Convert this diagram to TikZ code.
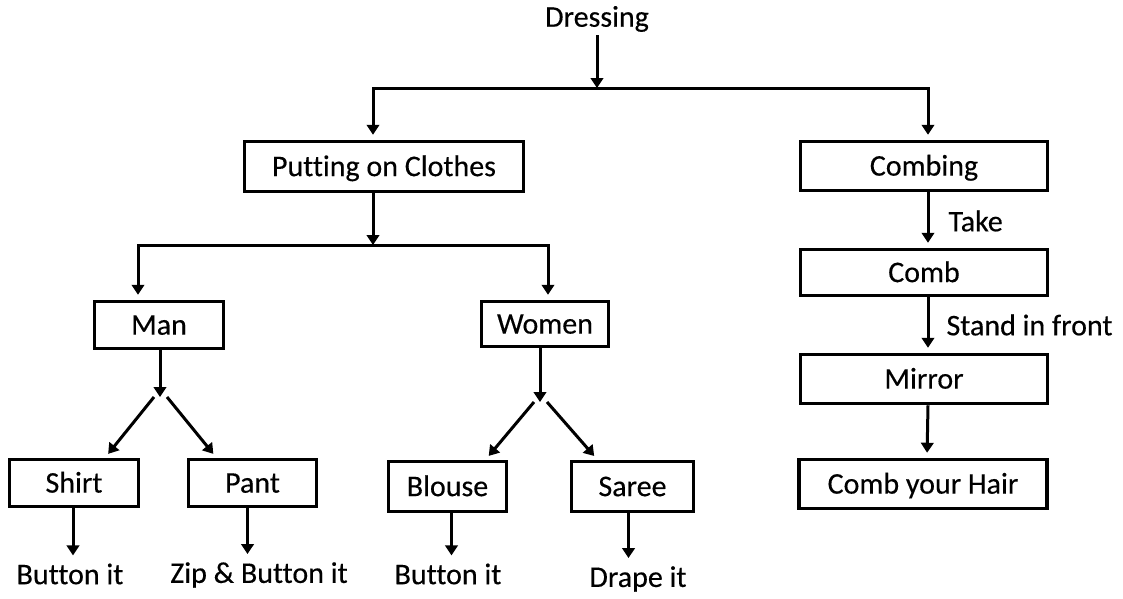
\documentclass[tikz,border=0pt]{standalone}
\usepackage{fontspec}
\setmainfont{Carlito}[Ligatures=NoCommon,FakeBold=0.3]
\usetikzlibrary{arrows.meta}
\begin{document}
\begin{tikzpicture}[x=1pt,y=-1pt,
  txt/.style={font=\fontsize{30}{36}\selectfont},
  box/.style={txt,draw,line width=3.5pt,inner sep=0pt,text height=19.2pt,text depth=0pt},
  lbl/.style={txt,inner sep=3pt},
  arrj/.style={line width=3pt,-{Triangle[length=10pt,width=12.5pt]}},
  arr/.style={arrj,shorten >=5pt}]
\fill[white] (0,0) rectangle (1123,598);
\useasboundingbox (0,0) rectangle (1123,598);

% top level
\node[lbl] (dressing) at (597,19) {Dressing};
\coordinate (j0) at (597,88);
\node[box,minimum width=279pt,minimum height=50pt] (poc) at (384,166.5) {Putting on Clothes};
\node[box,minimum width=247pt,minimum height=49pt] (combing) at (924,166) {Combing};

% combing chain
\node[box,minimum width=247pt,minimum height=46pt] (comb) at (924,272.5) {Comb};
\node[box,minimum width=247pt,minimum height=49pt] (mirror) at (924,379) {Mirror};
\node[box,minimum width=248pt,minimum height=49pt] (hair) at (923,484) {Comb your Hair};

% clothes branch
\node[box,minimum width=129pt,minimum height=47pt] (man) at (159,325) {Man};
\node[box,minimum width=127pt,minimum height=45pt] (women) at (545,324) {Women};
\node[box,minimum width=129pt,minimum height=47pt] (shirt) at (74,483) {Shirt};
\node[box,minimum width=128pt,minimum height=47pt] (pant) at (252.5,483) {Pant};
\node[box,minimum width=118pt,minimum height=50pt] (blouse) at (447.5,486.5) {Blouse};
\node[box,minimum width=122pt,minimum height=50pt] (saree) at (632.5,486.5) {Saree};

% final actions
\node[lbl] (btn1) at (70,574) {Button it};
\node[lbl] (zip) at (259,575) {Zip \& Button it};
\node[lbl] (btn2) at (448,574) {Button it};
\node[lbl] (drape) at (638,579) {Drape it};

% junctions
\coordinate (j1) at (373,245);
\coordinate (jm) at (160,397);
\coordinate (jw) at (540,402);

% connectors
\draw[arrj] (dressing) -- (j0);
\draw[arr] (j0) -| ([xshift=-11pt]poc.north);
\draw[arr] (j0) -| ([xshift=4pt]combing.north);

\draw[arr] ([xshift=4pt]combing.south) -- ([xshift=4pt]comb.north)
  node[lbl,midway,right,xshift=16pt,yshift=-1pt] (take) {Take};
\draw[arr] ([xshift=4pt]comb.south) -- ([xshift=4pt]mirror.north)
  node[lbl,midway,right,xshift=14pt] (stand) {Stand in front};
\draw[arr] ([xshift=4pt]mirror.south) -- ([xshift=4pt]hair.north);

\draw[arrj] ([xshift=-11pt]poc.south) -- (j1);
\draw[arr] (j1) -| ([xshift=-21pt]man.north);
\draw[arr] (j1) -| ([xshift=3pt]women.north);

\draw[arrj] (man.south -| jm) -- (jm);
\draw[arr] ([xshift=-6pt]jm) -- ([xshift=31pt]shirt.north);
\draw[arr] ([xshift=7pt]jm) -- ([xshift=-36pt]pant.north);

\draw[arrj] (women.south -| jw) -- (jw);
\draw[arr] ([xshift=-6pt]jw) -- ([xshift=38pt]blouse.north);
\draw[arr] ([xshift=7pt]jw) -- ([xshift=-35pt]saree.north);

\draw[arr] ([xshift=-1pt]shirt.south) -- ([xshift=-1pt]shirt.south |- btn1.north);
\draw[arr] ([xshift=-5pt]pant.south) -- ([xshift=-5pt]pant.south |- zip.north);
\draw[arr] ([xshift=4pt]blouse.south) -- ([xshift=4pt]blouse.south |- btn2.north);
\draw[arr] ([xshift=-4pt]saree.south) -- ([xshift=-4pt]saree.south |- drape.north);
\end{tikzpicture}
\end{document}
